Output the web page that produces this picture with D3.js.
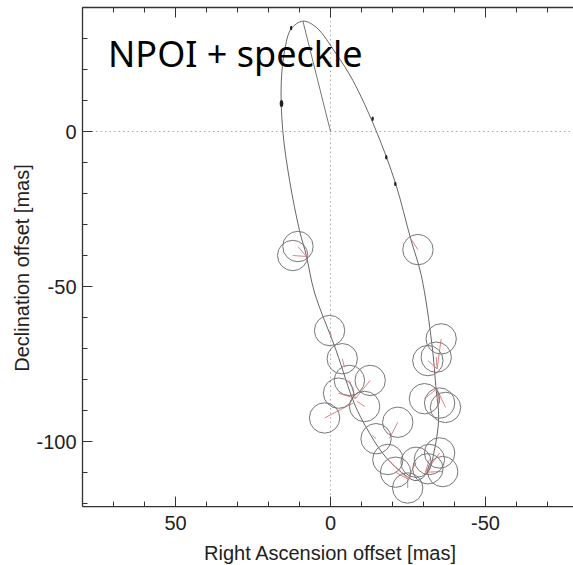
<!DOCTYPE html>
<html>
<head>
<meta charset="utf-8">
<script src="https://cdn.jsdelivr.net/npm/d3@7"></script>
<style>
  body { margin: 0; background: #fff; }
  svg { display: block; }
</style>
</head>
<body>
<div id="chart"></div>
<script>
// orbit model curve (mas)
const orbitRA  = [8.9, 4.6, -1.8, -7.2, -14.7, -21.0, -25.8, -29.3, -32.7, -34.1, -34.9, -33.5, -31.4, -27.6, -22.3, -16.9, -11.5, -7.7, -1.8, 5.2, 7.8, 10.0, 13.2, 15.4, 15.9, 14.8, 12.7];
const orbitDec = [35.6, 33.6, 25.1, 16.5, 0.3, -16.8, -34.4, -46.5, -68.5, -83.5, -92.2, -102.9, -109.9, -112.6, -109.4, -103.9, -95.4, -87.8, -70.6, -51.8, -40.0, -31.9, -15.8, 0.3, 15.4, 26.1, 33.1];

// periastron
const periRA = 8.9, periDec = 35.6;

// speckle measurements (circle centres) and error radius
const obsRA  = [10.5, 12.2, -28.2, 0.3, -3.8, -6.1, -2.6, -12.8, -11.0, 1.9, -35.7, -34.1, -31.4, -30.3, -35.2, -37.1, -14.7, -21.7, -18.5, -21.0, -24.9, -27.6, -31.9, -35.2, -31.4, -36.2];
const obsDec = [-37.1, -40.0, -38.1, -64.2, -73.3, -80.3, -84.4, -80.3, -88.7, -92.4, -66.9, -72.8, -73.9, -86.2, -87.6, -89.0, -99.1, -93.8, -105.8, -109.9, -115.0, -106.7, -105.8, -103.7, -108.8, -109.7];
const obsRadius = 4.9;

// model positions the O-C lines point to
const modelRA  = [7.8, 7.8, -25.8, -0.3, -4.5, -8.1, -8.1, -8.1, -8.5, -7.7, -34.4, -34.4, -34.4, -34.3, -34.3, -34.3, -13.5, -19.0, -24.9, -24.9, -24.9, -24.9, -30.6, -30.6, -30.6, -30.6];
const modelDec = [-40.3, -40.3, -34.4, -66.0, -76.0, -86.1, -86.1, -86.1, -87.0, -87.4, -76.6, -76.6, -76.6, -83.0, -83.0, -83.0, -98.0, -99.0, -112.1, -112.1, -112.1, -112.1, -109.9, -109.9, -109.9, -109.9];

// NPOI measurements (small dots on the orbit)
const npoiRA  = [15.8, 12.7, -13.6, -18.0, -20.9];
const npoiDec = [9.0, 33.4, 4.1, -8.3, -16.9];

const xMajor = [50, 0, -50];
const yMajor = [0, -50, -100];

const W = 573, H = 565;
const mLeft = 82.5, mTop = 7.5, mBottom = 506.6;

const x = d3.scaleLinear().domain([80, -80]).range([mLeft, mLeft + 160 * 3.1]);
const y = d3.scaleLinear().domain([40, -121]).range([mTop, mBottom]);

const svg = d3.select("#chart").append("svg")
    .attr("width", W).attr("height", H);

svg.append("defs").append("clipPath").attr("id", "clip")
   .append("rect")
   .attr("x", x(80)).attr("y", y(40))
   .attr("width", x(-80) - x(80)).attr("height", y(-121) - y(40));

const plot = svg.append("g").attr("clip-path", "url(#clip)");

// dotted zero lines
plot.append("line")
    .attr("x1", x(80)).attr("x2", x(-80)).attr("y1", y(0)).attr("y2", y(0))
    .attr("stroke", "#aaa").attr("stroke-width", 1).attr("stroke-dasharray", "1.5,3");
plot.append("line")
    .attr("x1", x(0)).attr("x2", x(0)).attr("y1", y(40)).attr("y2", y(-121))
    .attr("stroke", "#aaa").attr("stroke-width", 1).attr("stroke-dasharray", "1.5,3");

// orbit
const orbit = orbitRA.map((d, i) => [d, orbitDec[i]]);
const line = d3.line()
    .x(d => x(d[0])).y(d => y(d[1]))
    .curve(d3.curveCatmullRomClosed.alpha(0.5));
plot.append("path")
    .datum(orbit)
    .attr("d", line)
    .attr("fill", "none").attr("stroke", "#555").attr("stroke-width", 0.9);

// line from primary to periastron
plot.append("line")
    .attr("x1", x(0)).attr("y1", y(0)).attr("x2", x(periRA)).attr("y2", y(periDec))
    .attr("stroke", "#666").attr("stroke-width", 0.9);

// NPOI dots
plot.selectAll("ellipse.npoi")
    .data(npoiRA.map((d, i) => ({ ra: d, dec: npoiDec[i], big: i === 0 })))
    .enter().append("ellipse")
    .attr("class", "npoi")
    .attr("cx", d => x(d.ra)).attr("cy", d => y(d.dec))
    .attr("rx", d => d.big ? 1.8 : 1.2).attr("ry", d => d.big ? 3.5 : 2.2)
    .attr("fill", "#222");

const obs = obsRA.map((d, i) => ({ ra: d, dec: obsDec[i], mra: modelRA[i], mdec: modelDec[i] }));

// O-C lines
plot.selectAll("line.oc")
    .data(obs).enter().append("line")
    .attr("class", "oc")
    .attr("x1", d => x(d.ra)).attr("y1", d => y(d.dec))
    .attr("x2", d => x(d.mra)).attr("y2", d => y(d.mdec))
    .attr("stroke", "#dd8585").attr("stroke-width", 1);

// error circles
const rPx = Math.abs(x(0) - x(obsRadius));
plot.selectAll("circle.obs")
    .data(obs).enter().append("circle")
    .attr("class", "obs")
    .attr("cx", d => x(d.ra)).attr("cy", d => y(d.dec))
    .attr("r", rPx)
    .attr("fill", "none").attr("stroke", "#777").attr("stroke-width", 1);

// frame and ticks
const frame = svg.append("g").attr("stroke", "#333").attr("stroke-width", 1.3);
frame.append("line").attr("x1", x(80)).attr("x2", x(-80)).attr("y1", y(-121)).attr("y2", y(-121));
frame.append("line").attr("x1", x(80)).attr("x2", x(-80)).attr("y1", y(40)).attr("y2", y(40));
frame.append("line").attr("x1", x(80)).attr("x2", x(80)).attr("y1", y(40)).attr("y2", y(-121));

const xTickVals = d3.range(-80, 81, 10);
const yTickVals = d3.range(-120, 41, 10);

xTickVals.forEach(v => {
  const len = xMajor.includes(v) ? 10 : 5;
  frame.append("line").attr("x1", x(v)).attr("x2", x(v))
       .attr("y1", y(-121)).attr("y2", y(-121) - len).attr("stroke-width", 1);
  frame.append("line").attr("x1", x(v)).attr("x2", x(v))
       .attr("y1", y(40)).attr("y2", y(40) + len).attr("stroke-width", 1);
});
yTickVals.forEach(v => {
  const len = yMajor.includes(v) ? 10 : 5;
  frame.append("line").attr("x1", x(80)).attr("x2", x(80) + len)
       .attr("y1", y(v)).attr("y2", y(v)).attr("stroke-width", 1);
});

// tick labels
const font = "'Liberation Sans', Arial, Helvetica, sans-serif";
svg.selectAll("text.xt").data(xMajor).enter().append("text")
   .attr("x", d => x(d)).attr("y", 530)
   .attr("text-anchor", "middle")
   .style("font-family", font).style("font-size", "20px").attr("fill", "#222")
   .text(d => d);
svg.selectAll("text.yt").data(yMajor).enter().append("text")
   .attr("x", x(80) - 6).attr("y", d => y(d) + 7)
   .attr("text-anchor", "end")
   .style("font-family", font).style("font-size", "20px").attr("fill", "#222")
   .text(d => d);

// axis titles
svg.append("text")
   .attr("x", 330).attr("y", 560)
   .attr("text-anchor", "middle")
   .style("font-family", font).style("font-size", "20px").attr("fill", "#222")
   .text("Right Ascension offset [mas]");
svg.append("text")
   .attr("transform", "translate(29," + 268 + ") rotate(-90)")
   .attr("text-anchor", "middle")
   .style("font-family", font).style("font-size", "20px").attr("fill", "#222")
   .text("Declination offset [mas]");

// panel label
svg.append("text")
   .attr("x", 108).attr("y", 67)
   .style("font-family", "'Noto Sans', 'Open Sans', sans-serif").style("font-size", "36px").attr("fill", "#000")
   .text("NPOI + speckle");
</script>
</body>
</html>
